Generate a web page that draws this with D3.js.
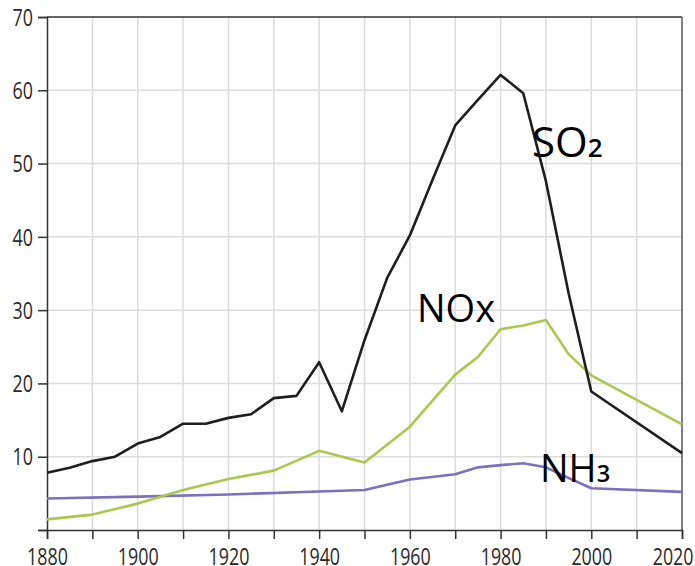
<!DOCTYPE html>
<html lang="en">
<head>
  <meta charset="UTF-8">
  <script src="https://d3js.org/d3.v7.min.js"></script>
  <style>
    body {
      background-color: #fff;
      margin: 0;
      overflow: hidden;
    }

    svg {
      display: block;
    }

    .label {
      font-family: "Open Sans", "Noto Sans", sans-serif;
      fill: #000;
    }
  </style>
</head>
<body>

<svg width="695" height="566"></svg>

<script>
  // years and values (emissions)
  const so2Years = [1880, 1885, 1890, 1895, 1900, 1905, 1910, 1915, 1920, 1925, 1930, 1935, 1940, 1945,
    1950, 1955, 1960, 1965, 1970, 1975, 1980, 1985, 1990, 1995, 2000, 2020];
  const so2 = [7.8, 8.5, 9.4, 10.0, 11.8, 12.7, 14.5, 14.5, 15.3, 15.8, 18.0, 18.3, 22.9, 16.2,
    25.9, 34.4, 40.2, 47.8, 55.2, 58.7, 62.1, 59.6, 47.6, 32.3, 18.9, 10.5];

  const noxYears = [1880, 1890, 1900, 1910, 1920, 1930, 1940, 1950, 1960, 1970, 1975, 1980, 1985, 1990, 1995, 2000, 2020];
  const nox = [1.45, 2.1, 3.6, 5.45, 6.95, 8.1, 10.8, 9.2, 14.1, 21.2, 23.6, 27.4, 27.9, 28.65, 24.0, 21.1, 14.4];

  const nh3Years = [1880, 1900, 1920, 1940, 1950, 1960, 1970, 1975, 1980, 1985, 1990, 1995, 2000, 2020];
  const nh3 = [4.3, 4.55, 4.85, 5.25, 5.45, 6.9, 7.6, 8.55, 8.85, 9.1, 8.55, 7.1, 5.7, 5.2];

  const xTicks = [1880, 1900, 1920, 1940, 1960, 1980, 2000, 2020];
  const yTicks = [10, 20, 30, 40, 50, 60, 70];

  const svg = d3.select('svg');
  const mLeft = 47, mRight = 682, mTop = 17, mBottom = 530;

  const x = d3.scaleLinear().domain([1880, 2020]).range([mLeft, mRight]);
  const y = d3.scaleLinear().domain([0, 70]).range([mBottom, mTop]);

  // grid
  const grid = svg.append('g');
  grid.selectAll('.vg')
    .data(d3.range(1890, 2020, 10))
    .enter().append('line')
    .attr('x1', d => x(d)).attr('x2', d => x(d))
    .attr('y1', mTop).attr('y2', mBottom)
    .attr('stroke', '#dcdcdc').attr('stroke-width', 1.5);
  grid.selectAll('.hg')
    .data(yTicks.slice(0, -1))
    .enter().append('line')
    .attr('x1', mLeft).attr('x2', mRight)
    .attr('y1', d => y(d)).attr('y2', d => y(d))
    .attr('stroke', '#dcdcdc').attr('stroke-width', 1.5);

  // frame top / right
  svg.append('line')
    .attr('x1', mLeft).attr('x2', mRight).attr('y1', mTop).attr('y2', mTop)
    .attr('stroke', '#333').attr('stroke-width', 1.5);
  svg.append('line')
    .attr('x1', mRight).attr('x2', mRight).attr('y1', mTop).attr('y2', mBottom)
    .attr('stroke', '#555').attr('stroke-width', 1.5);

  // axes
  const xAxis = svg.append('g')
    .attr('transform', `translate(0,${mBottom})`)
    .call(d3.axisBottom(x).tickValues(d3.range(1880, 2021, 10)).tickSize(9)
      .tickFormat(d => xTicks.includes(d) ? d : ''));
  xAxis.selectAll('text').attr('y', 12).attr('dy', '1.0em');
  // last label pulled in so it fits
  xAxis.selectAll('.tick').filter(d => d === 2020).select('text')
    .attr('text-anchor', 'end').attr('x', 693 - mRight);

  const yAxis = svg.append('g')
    .attr('transform', `translate(${mLeft},0)`)
    .call(d3.axisLeft(y).tickValues([0].concat(yTicks)).tickSize(9)
      .tickFormat(d => d === 0 ? '' : d));
  yAxis.selectAll('text').attr('x', -14).attr('dy', '0.36em');

  // narrow digits like the original
  svg.selectAll('.tick text').each(function() {
    const t = d3.select(this);
    const s = t.text();
    t.attr('font-family', '"Open Sans", "Noto Sans", sans-serif')
      .attr('font-size', 23)
      .attr('fill', '#2a2a2a');
    if (s) t.attr('textLength', s.length * 10.2).attr('lengthAdjust', 'spacingAndGlyphs');
  });

  [xAxis, yAxis].forEach(a => {
    a.attr('font-size', 23);
    a.select('.domain').attr('stroke', '#333').attr('stroke-width', 1.5);
    a.selectAll('.tick line').attr('stroke', '#333').attr('stroke-width', 1.5);
  });

  // lines
  function draw(years, vals, color) {
    const pts = years.map((yr, i) => [yr, vals[i]]);
    svg.append('path')
      .datum(pts)
      .attr('fill', 'none')
      .attr('stroke', color)
      .attr('stroke-width', 2.6)
      .attr('stroke-linejoin', 'round')
      .attr('d', d3.line().x(d => x(d[0])).y(d => y(d[1])));
  }
  draw(nh3Years, nh3, '#7b70c4');
  draw(noxYears, nox, '#a9c84c');
  draw(so2Years, so2, '#1e1e1e');

  // labels
  function label(px, py, main, sub, size) {
    const t = svg.append('text').attr('class', 'label')
      .attr('x', px).attr('y', py).attr('font-size', size);
    t.append('tspan').text(main);
    if (sub) t.append('tspan').attr('font-size', size * 0.62).attr('font-weight', 600).text(sub);
  }
  label(532, 157, 'SO', '2', 42);
  label(417, 322, 'NOx', '', 38);
  label(540, 482, 'NH', '3', 38);
</script>

</body>
</html>
